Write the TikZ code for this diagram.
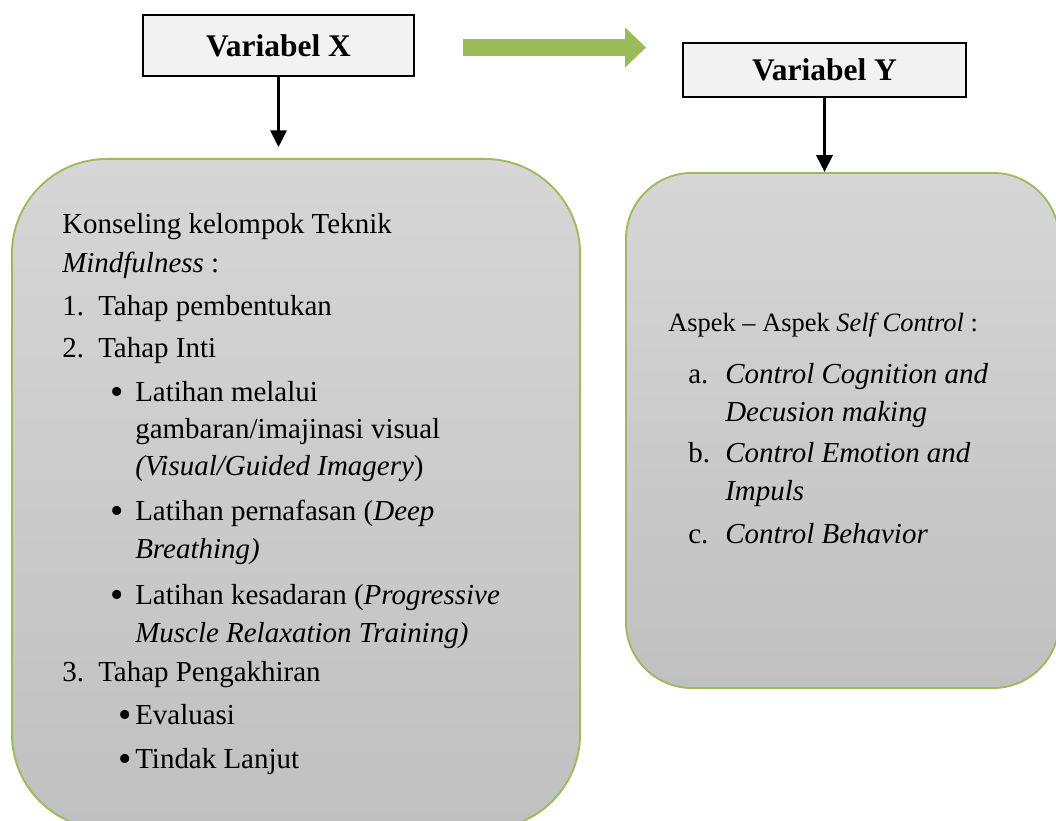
\documentclass[tikz,border=0pt]{standalone}
\usepackage{fontspec}
\setmainfont{Liberation Serif}
\usetikzlibrary{positioning,arrows.meta}
\definecolor{boxgreen}{RGB}{155,187,89}
\definecolor{boxtop}{RGB}{214,214,214}
\definecolor{boxbottom}{RGB}{192,192,192}
\definecolor{varfill}{RGB}{242,242,242}
\newcommand{\bigdot}{\raisebox{-2.4pt}{\fontsize{27}{27}\selectfont\textbullet}}
\tikzset{
  varbox/.style={draw=black, line width=1.6pt, fill=varfill, font=\fontsize{22.4}{26}\selectfont\bfseries},
  roundbox/.style={draw=boxgreen, line width=1.3pt, top color=boxtop, bottom color=boxbottom},
  txt/.style={anchor=base west, inner sep=0pt, font=\fontsize{20.6}{24}\selectfont},
  hdr/.style={anchor=base west, inner sep=0pt, font=\fontsize{18.8}{22}\selectfont},
  down/.style={line width=2.2pt, -{Triangle[length=0.42cm,width=0.4cm]}},
}

\begin{document}
\begin{tikzpicture}[x=0.025cm, y=-0.025cm]
\useasboundingbox (0,0) rectangle (1056,820);
\node[varbox, minimum width=6.775cm, minimum height=1.525cm] (varx) at (278.5,45.5) {Variabel X};
\node[varbox, minimum width=7.075cm, minimum height=1.35cm] (vary) at (824.5,70) {Variabel Y};
\node[roundbox, rounded corners=2.375cm, minimum width=14.2cm, minimum height=16.75cm] (boxx) at (296,494) {};
\node[roundbox, rounded corners=1.65cm, minimum width=10.825cm, minimum height=12.875cm] (boxy) at (842.5,430.5) {};
\coordinate (ga) at (463,47.5);
\coordinate (gb) at (646,47.5);
\draw[boxgreen, line width=0.425cm, -{Triangle[length=0.525cm,width=0.975cm]}] (ga) -- (gb);
\draw[down] (varx.south) -- ++(0,70);
\draw[down] (vary.south) -- (vary.south |- boxy.north);

% isi kotak variabel X
\node[txt] (konseling) at (62,234) {Konseling kelompok Teknik};
\node[txt] (mindful) at (62,272) {\textit{Mindfulness} :};
\node[txt] (num1) at (62,315) {1.};
\node[txt] (tahap1) at (98,315) {Tahap pembentukan};
\node[txt] (num2) at (62,357) {2.};
\node[txt] (tahap2) at (98,357) {Tahap Inti};
\node[txt] (dot1) at (110,401) {\bigdot};
\node[txt] (latih1) at (135,401) {Latihan melalui};
\node[txt] (latih1b) at (135,438) {gambaran/imajinasi visual};
\node[txt] (latih1c) at (135,475) {\textit{(Visual/Guided Imagery})};
\node[txt] (dot2) at (110,520) {\bigdot};
\node[txt] (latih2) at (135,520) {Latihan pernafasan (\textit{Deep}};
\node[txt] (latih2b) at (135,558) {\textit{Breathing)}};
\node[txt] (dot3) at (110,604) {\bigdot};
\node[txt] (latih3) at (135,604) {Latihan kesadaran (\textit{Progressive}};
\node[txt] (latih3b) at (135,642) {\textit{Muscle Relaxation Training)}};
\node[txt] (num3) at (62,681) {3.};
\node[txt] (tahap3) at (98,681) {Tahap Pengakhiran};
\node[txt] (dot4) at (118,724) {\bigdot};
\node[txt] (evaluasi) at (135,724) {Evaluasi};
\node[txt] (dot5) at (118,768) {\bigdot};
\node[txt] (lanjut) at (135,768) {Tindak Lanjut};

% isi kotak variabel Y
\node[hdr] (aspek) at (668,331) {Aspek – Aspek \textit{Self Control} :};
\node[txt] (numa) at (688,383) {a.};
\node[txt] (aspa) at (725,383) {\textit{Control Cognition and}};
\node[txt] (aspab) at (725,421) {\textit{Decusion making}};
\node[txt] (numb) at (688,462) {b.};
\node[txt] (aspb) at (725,462) {\textit{Control Emotion and}};
\node[txt] (aspbb) at (725,500) {\textit{Impuls}};
\node[txt] (numc) at (688,543) {c.};
\node[txt] (aspc) at (725,543) {\textit{Control Behavior}};
\end{tikzpicture}
\end{document}
